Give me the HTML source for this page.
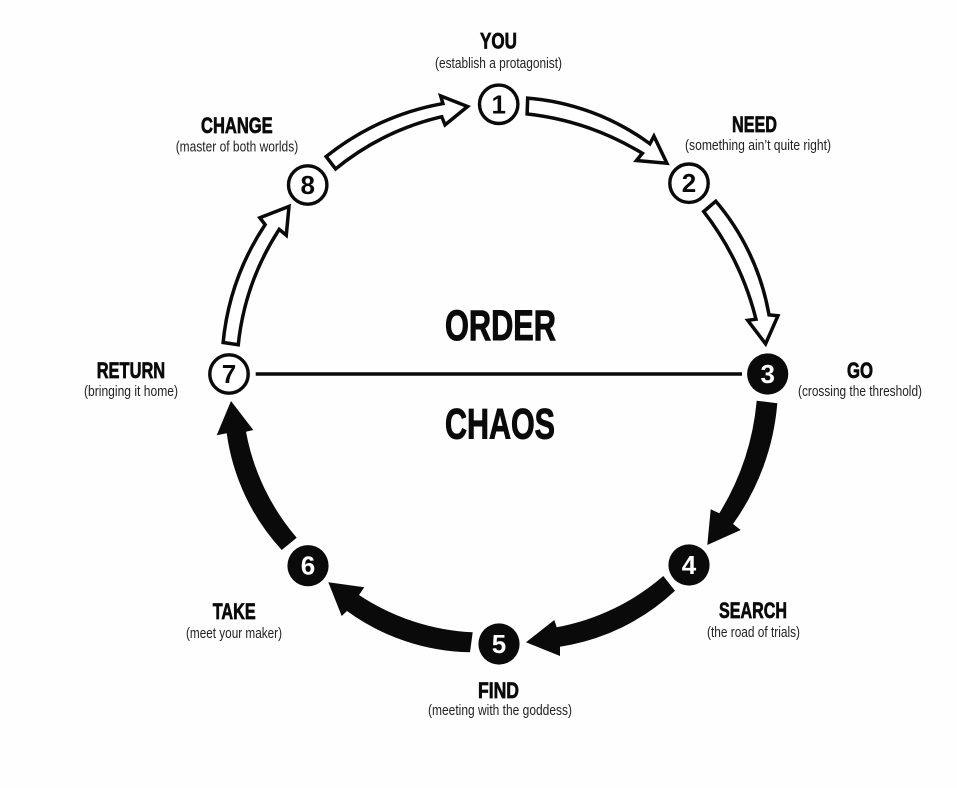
<!DOCTYPE html>
<html>
<head>
<meta charset="utf-8">
<style>
html,body{margin:0;padding:0;background:#fefefe;width:957px;height:788px;overflow:hidden}
svg{display:block;filter:blur(.35px)}
text{font-family:"Liberation Sans",sans-serif;fill:#0a0a0a;text-anchor:start}
.t{font-weight:700;font-size:22px;stroke:#0a0a0a;stroke-width:.7px}
.s{font-size:15px;fill:#222}
.b{font-weight:700;font-size:43px;stroke:#0a0a0a;stroke-width:1px}
.n{font-weight:700;font-size:26px;text-anchor:middle}
</style>
</head>
<body>
<svg width="957" height="788" viewBox="0 0 957 788" xmlns="http://www.w3.org/2000/svg">
<defs>
<clipPath id="a1"><path d="M526 96.2A240 240 0 0 1 649.3 141.2L654 132.2L669.8 165.2L633 162L639.7 153.8A280 280 0 0 0 525.3 115.5Z"/></clipPath>
<clipPath id="a2"><path d="M716 198.7A240 240 0 0 1 770.5 313.3L780.5 314.3L766 347.2L744.5 319L753.8 317.7A290 290 0 0 0 701.3 211.3Z"/></clipPath>
<clipPath id="a7"><path d="M221.2 344A260 260 0 0 1 263 224.7L257 217L291 203.7L287.7 238.7L279.6 232A260 260 0 0 0 239.8 346.7Z"/></clipPath>
<clipPath id="a8"><path d="M323.7 156.3A260 260 0 0 1 440.7 102.2L438 93L471 106L444.3 127.7L440.7 118.8A260 260 0 0 0 335.3 171.4Z"/></clipPath>
</defs>

<!-- white arrows -->
<g fill="#fff" stroke="#0a0a0a" stroke-width="7" stroke-linejoin="miter">
<path clip-path="url(#a1)" d="M526 96.2A240 240 0 0 1 649.3 141.2L654 132.2L669.8 165.2L633 162L639.7 153.8A280 280 0 0 0 525.3 115.5Z"/>
<path clip-path="url(#a2)" d="M716 198.7A240 240 0 0 1 770.5 313.3L780.5 314.3L766 347.2L744.5 319L753.8 317.7A290 290 0 0 0 701.3 211.3Z"/>
<path clip-path="url(#a7)" d="M221.2 344A260 260 0 0 1 263 224.7L257 217L291 203.7L287.7 238.7L279.6 232A260 260 0 0 0 239.8 346.7Z"/>
<path clip-path="url(#a8)" d="M323.7 156.3A260 260 0 0 1 440.7 102.2L438 93L471 106L444.3 127.7L440.7 118.8A260 260 0 0 0 335.3 171.4Z"/>
</g>

<!-- black arrows -->
<g fill="#0a0a0a">
<path d="M777.3 403.3A240 240 0 0 1 733 524L740.7 530L707.3 545L710.7 509.3L719.3 513.3A260 260 0 0 0 756.7 400.7Z"/>
<path d="M675 590.7A215 215 0 0 1 560 646.7L560 656L526 642.3L554.3 620L556.7 627.3A225 225 0 0 0 663.3 576Z"/>
<path d="M470 652.3A215 215 0 0 1 347 611L341.7 616L328.3 582.3L364.3 587.3L359 595A225 225 0 0 0 472.7 632.3Z"/>
<path d="M281.7 550A215 215 0 0 1 226.7 433.3L216.7 435.3L231 401L253.3 430L246 431.7A225 225 0 0 0 296.7 537.7Z"/>
</g>

<!-- divider -->
<line x1="255.7" y1="374" x2="742" y2="374" stroke="#0a0a0a" stroke-width="3.6"/>

<!-- white nodes -->
<g fill="#fff" stroke="#0a0a0a" stroke-width="3.4">
<circle cx="498.7" cy="104.3" r="19.2"/>
<circle cx="689" cy="183.2" r="19.2"/>
<circle cx="229" cy="374" r="19.2"/>
<circle cx="307.7" cy="185" r="19.2"/>
</g>
<!-- black nodes -->
<g fill="#0a0a0a">
<circle cx="767.7" cy="374" r="20.6"/>
<circle cx="689" cy="565" r="20.6"/>
<circle cx="499" cy="644" r="20.6"/>
<circle cx="308" cy="565.7" r="20.6"/>
</g>

<!-- numbers -->
<text class="n" x="498.7" y="113.3">1</text>
<text class="n" x="689" y="192.2">2</text>
<text class="n" x="767.7" y="383" style="fill:#fff">3</text>
<text class="n" x="689" y="574" style="fill:#fff">4</text>
<text class="n" x="499" y="653" style="fill:#fff">5</text>
<text class="n" x="308" y="574.7" style="fill:#fff">6</text>
<text class="n" x="229" y="383">7</text>
<text class="n" x="307.7" y="194">8</text>

<!-- big labels -->
<text class="b" x="445" y="340" textLength="111" lengthAdjust="spacingAndGlyphs">ORDER</text>
<text class="b" x="445" y="438.5" textLength="110" lengthAdjust="spacingAndGlyphs">CHAOS</text>

<!-- titles -->
<text class="t" x="480" y="48.5" textLength="37" lengthAdjust="spacingAndGlyphs">YOU</text>
<text class="t" x="732" y="132" textLength="45" lengthAdjust="spacingAndGlyphs">NEED</text>
<text class="t" x="847" y="378" textLength="26" lengthAdjust="spacingAndGlyphs">GO</text>
<text class="t" x="719" y="618" textLength="68" lengthAdjust="spacingAndGlyphs">SEARCH</text>
<text class="t" x="478" y="698" textLength="41" lengthAdjust="spacingAndGlyphs">FIND</text>
<text class="t" x="212.7" y="619" textLength="43" lengthAdjust="spacingAndGlyphs">TAKE</text>
<text class="t" x="96.7" y="378" textLength="68.5" lengthAdjust="spacingAndGlyphs">RETURN</text>
<text class="t" x="201" y="133" textLength="71.7" lengthAdjust="spacingAndGlyphs">CHANGE</text>

<!-- subtitles -->
<text class="s" x="435" y="68" textLength="127" lengthAdjust="spacingAndGlyphs">(establish a protagonist)</text>
<text class="s" x="685" y="150" textLength="146" lengthAdjust="spacingAndGlyphs">(something ain’t quite right)</text>
<text class="s" x="798" y="396" textLength="124" lengthAdjust="spacingAndGlyphs">(crossing the threshold)</text>
<text class="s" x="707" y="637" textLength="93" lengthAdjust="spacingAndGlyphs">(the road of trials)</text>
<text class="s" x="428" y="715" textLength="144" lengthAdjust="spacingAndGlyphs">(meeting with the goddess)</text>
<text class="s" x="186" y="638" textLength="96" lengthAdjust="spacingAndGlyphs">(meet your maker)</text>
<text class="s" x="84" y="396" textLength="94" lengthAdjust="spacingAndGlyphs">(bringing it home)</text>
<text class="s" x="175.7" y="151.5" textLength="122.5" lengthAdjust="spacingAndGlyphs">(master of both worlds)</text>
</svg>
</body>
</html>
